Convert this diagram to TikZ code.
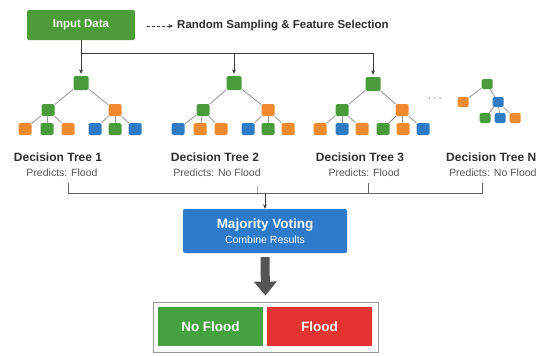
\documentclass[tikz,border=0pt]{standalone}
\usepackage{fontspec}
\setmainfont{Liberation Sans}
\usetikzlibrary{arrows.meta,calc}

\definecolor{tgreen}{HTML}{4A9B3B}
\definecolor{torange}{HTML}{F08A2E}
\definecolor{tblue}{HTML}{2F7BC6}
\definecolor{boxgreen}{HTML}{4C9C3A}
\definecolor{voteblue}{HTML}{2E7ACB}
\definecolor{resgreen}{HTML}{45A13F}
\definecolor{resred}{HTML}{E3342F}
\definecolor{edgegray}{HTML}{959595}
\definecolor{linkgray}{HTML}{3C3C3C}
\definecolor{titlegray}{HTML}{303030}
\definecolor{subgray}{HTML}{555555}
\definecolor{biggray}{HTML}{555555}

\tikzset{
  tnode/.style={rectangle, rounded corners=1.5pt, inner sep=0pt,
                minimum width=13pt, minimum height=12pt},
  troot/.style={tnode, minimum width=15pt, minimum height=14pt},
  tsmall/.style={tnode, minimum width=11pt, minimum height=10pt},
  gn/.style={fill=tgreen},
  on/.style={fill=torange},
  bn/.style={fill=tblue},
  tedge/.style={draw=edgegray, line width=0.8pt},
  link/.style={draw=linkgray, line width=0.9pt},
  linkarrow/.style={link, -{Stealth[length=4.5pt,width=4pt]}},
  treetitle/.style={font=\fontsize{12}{14}\selectfont\bfseries, text=titlegray, inner sep=0pt},
  treesub/.style={font=\fontsize{10.5}{12}\selectfont, text=subgray, inner sep=0pt},
}

\begin{document}
\begin{tikzpicture}[x=1pt,y=-1pt]
\useasboundingbox (0,0) rectangle (539,356);

% input box and sampling note
\node (input) [rectangle, rounded corners=2pt, fill=boxgreen, minimum width=108pt,
  minimum height=30pt, inner sep=0pt, text=white,
  font=\fontsize{11.5}{13}\selectfont\bfseries] at (81,25) {Input Data};
\coordinate (dstart) at (147,26);
\node (note) [anchor=west, inner sep=0pt, text=titlegray,
  font=\fontsize{11.5}{13}\selectfont\bfseries] at (177,26) {Random Sampling \& Feature Selection};
\draw[link, densely dashed, -{Stealth[length=4.5pt,width=4pt]}] (dstart) -- ([xshift=-4pt]note.west);

% ---------- tree 1 ----------
\node (r1) [troot, gn] at (81,83) {};
\node (a1) [tnode, gn] at (48,110) {};
\node (b1) [tnode, on] at (115,110) {};
\node (a1x) [tnode, on] at (25,129) {};
\node (a1y) [tnode, gn] at (47,129) {};
\node (a1z) [tnode, on] at (68,129) {};
\node (b1x) [tnode, bn] at (95,129) {};
\node (b1y) [tnode, gn] at (115,129) {};
\node (b1z) [tnode, bn] at (135,129) {};

% ---------- tree 2 ----------
\node (r2) [troot, gn] at (234,83) {};
\node (a2) [tnode, gn] at (203,110) {};
\node (b2) [tnode, on] at (268,110) {};
\node (a2x) [tnode, bn] at (178,129) {};
\node (a2y) [tnode, on] at (200,129) {};
\node (a2z) [tnode, on] at (221,129) {};
\node (b2x) [tnode, bn] at (248,129) {};
\node (b2y) [tnode, gn] at (268,129) {};
\node (b2z) [tnode, on] at (288,129) {};

% ---------- tree 3 ----------
\node (r3) [troot, gn] at (373,84) {};
\node (a3) [tnode, gn] at (342,110) {};
\node (b3) [tnode, on] at (402,110) {};
\node (a3x) [tnode, on] at (320,129) {};
\node (a3y) [tnode, bn] at (342,129) {};
\node (a3z) [tnode, on] at (362,129) {};
\node (b3x) [tnode, gn] at (383,129) {};
\node (b3y) [tnode, on] at (403,129) {};
\node (b3z) [tnode, bn] at (423,129) {};

% ---------- tree N ----------
\node (rN) [tsmall, gn] at (487,84) {};
\node (aN) [tsmall, on] at (463,102) {};
\node (bN) [tsmall, bn] at (498,102) {};
\node (bNx) [tsmall, gn] at (485,118) {};
\node (bNy) [tsmall, bn] at (500,118) {};
\node (bNz) [tsmall, on] at (515,118) {};

\node (dots) [inner sep=0pt, text=subgray, font=\fontsize{13}{13}\selectfont\bfseries] at (435,99) {$\cdots$};

% tree edges
\foreach \t in {1,2,3} {
  \draw[tedge] (r\t) -- (a\t);
  \draw[tedge] (r\t) -- (b\t);
  \foreach \c in {x,y,z} {
    \draw[tedge] (a\t) -- (a\t\c);
    \draw[tedge] (b\t) -- (b\t\c);
  }
}
\draw[tedge] (rN) -- (aN);
\draw[tedge] (rN) -- (bN);
\foreach \c in {x,y,z} { \draw[tedge] (bN) -- (bN\c); }

% distribution from the input box to the roots
\coordinate (h2) at (234,53);
\coordinate (h3) at (373,53);
\draw[linkarrow] (input.south) -- ([yshift=2pt]r1.north);
\draw[link] (input.south |- h2) -- (h3);
\draw[linkarrow] (h2) -- ([yshift=2pt]r2.north);
\draw[linkarrow] (h3) -- ([yshift=2pt]r3.north);

% tree captions
\node (t1) [treetitle] at (58,157) {Decision Tree 1};
\node (p1) [treesub] at (62,173) {Predicts: Flood};
\node (t2) [treetitle] at (215,157) {Decision Tree 2};
\node (p2) [treesub] at (217,173) {Predicts: No Flood};
\node (t3) [treetitle] at (360,157) {Decision Tree 3};
\node (p3) [treesub] at (364,173) {Predicts: Flood};
\node (tN) [treetitle, anchor=west] at (446,157) {Decision Tree N};
\node (pN) [treesub, anchor=west] at (449,173) {Predicts: No Flood};

% collecting the predictions
\coordinate (c1) at (68,183);
\coordinate (c2) at (257,186);
\coordinate (c3) at (368,183);
\coordinate (c4) at (482,183);
\coordinate (j1) at (68,193);
\coordinate (j2) at (257,193);
\coordinate (j3) at (368,193);
\coordinate (j4) at (482,193);
\coordinate (jv) at (265,193);
\draw[link, draw=linkgray!80] (c1) -- (j1) -- (j4) -- (c4);
\draw[link, draw=linkgray!40] (c2) -- (j2);
\draw[link, draw=linkgray!80] (c3) -- (j3);

% voting box
\node (vote) [rectangle, rounded corners=2pt, fill=voteblue, minimum width=164pt,
  minimum height=44pt, inner sep=0pt, text=white, align=center] at (265,231)
  {{\fontsize{13.5}{15}\selectfont\bfseries Majority Voting}\\[3pt]
   {\fontsize{10.5}{12}\selectfont Combine Results}};
\draw[linkarrow] (jv) -- (vote.north);

% result panel
\node (res) [rectangle, draw=black!40, line width=0.8pt, fill=white,
  minimum width=225pt, minimum height=50pt, inner sep=0pt] at (265.5,327) {};
\node (nof) [rectangle, fill=resgreen, minimum width=105pt, minimum height=39pt,
  inner sep=0pt, text=white, font=\fontsize{13.5}{15}\selectfont\bfseries] at (210.5,326.5) {No Flood};
\node (fl) [rectangle, fill=resred, minimum width=105pt, minimum height=39pt,
  inner sep=0pt, text=white, font=\fontsize{13.5}{15}\selectfont\bfseries] at (319.5,326.5) {Flood};

% big arrow into the result panel
\draw[draw=biggray, line width=9pt, -{Triangle[length=14pt,width=22pt]}]
  ([yshift=-4pt]vote.south) -- ([yshift=6pt]res.north);
\end{tikzpicture}
\end{document}
